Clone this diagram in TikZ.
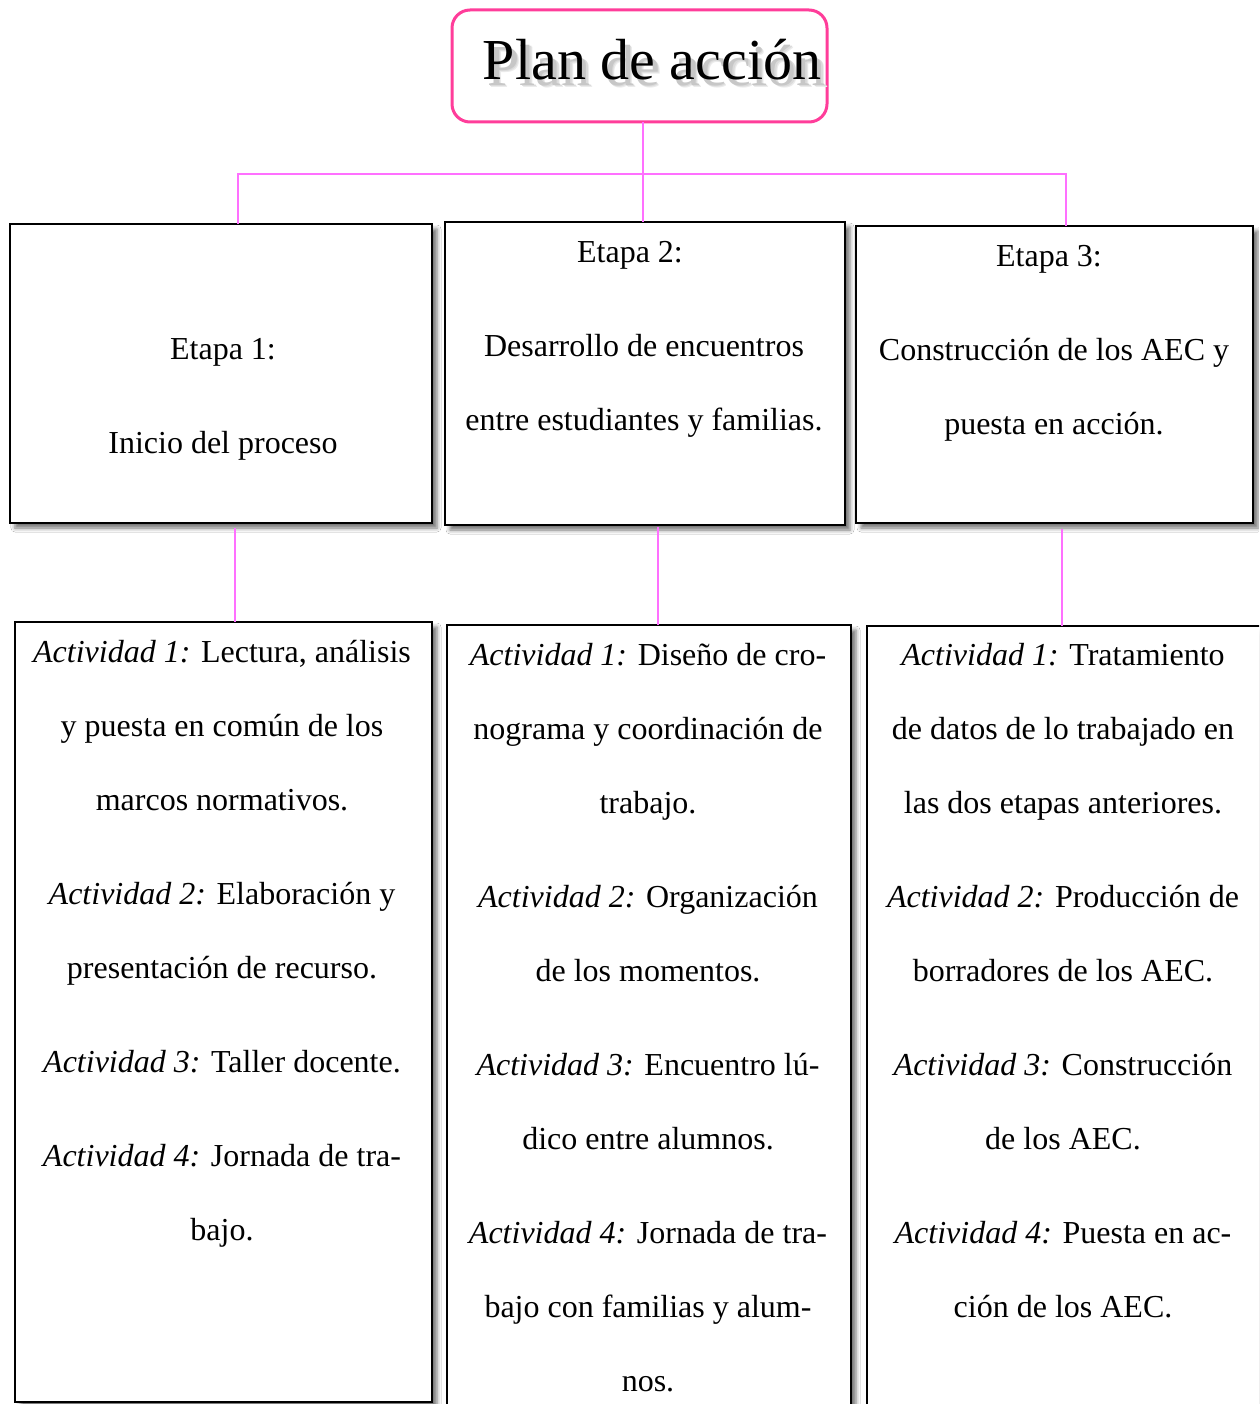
\documentclass[tikz,border=0pt]{standalone}
\usepackage{fontspec}
\setmainfont{Liberation Serif}
\usetikzlibrary{shadows.blur}
\definecolor{titlepink}{HTML}{FF3D9A}
\definecolor{pinkline}{HTML}{FF70FF}
\newcommand{\act}[1]{{\itshape #1}}
\newcommand{\shadowcopy}[4]{\makebox[0pt][l]{\hspace{#1}\raisebox{#2}{\color{black!#3}#4}}}
\begin{document}
\begin{tikzpicture}[x=1pt,y=-1pt,
  boxstyle/.style={draw=black, line width=2pt, fill=white,
    blur shadow={shadow xshift=5pt, shadow yshift=-5pt, shadow blur radius=4pt, shadow opacity=55},
    anchor=north west, inner sep=0pt, outer sep=0pt},
  conn/.style={draw=pinkline, line width=2pt},
  txt/.style={align=center, anchor=base, inner sep=0pt, font=\fontsize{32}{74}\selectfont},
  titletxt/.style={anchor=base, inner sep=0pt, font=\fontsize{58}{60}\selectfont},
]
\useasboundingbox (0,0) rectangle (1259,1404);
\clip (0,0) rectangle (1259,1404);
\fill[white] (0,0) rectangle (1259,1404);

% title
\node[draw=titlepink, line width=3pt, rounded corners=18pt, minimum width=375pt, minimum height=112pt,
      anchor=north west, inner sep=0pt, outer sep=0pt] (title) at (452,10) {};
\node[titletxt] (tt) at (652,80) {%
  \shadowcopy{7pt}{-8pt}{8}{Plan de acción}%
  \shadowcopy{6pt}{-7pt}{14}{Plan de acción}%
  \shadowcopy{4.5pt}{-5.5pt}{22}{Plan de acción}%
  Plan de acción};

% stage boxes
\node[boxstyle, minimum width=422pt, minimum height=299pt] (e1) at (10,224) {};
\node[boxstyle, minimum width=400pt, minimum height=303pt] (e2) at (445,222) {};
\node[boxstyle, minimum width=397pt, minimum height=297pt] (e3) at (856,226) {};

% activity boxes
\node[boxstyle, minimum width=417pt, minimum height=780pt] (a1) at (15,622) {};
\node[boxstyle, minimum width=404pt, minimum height=840pt] (a2) at (447,625) {};
\node[boxstyle, minimum width=420pt, minimum height=840pt] (a3) at (867,626) {};

% connectors
\coordinate (hub) at (643,174);
\coordinate (j1) at (238,174);
\coordinate (j3) at (1066,174);
\draw[conn] (title.south -| hub) -- (hub |- e2.north);
\draw[conn] (j1 |- e1.north) -- (j1) -- (j3) -- (j3 |- e3.north);
\coordinate (l1) at (235,528);
\coordinate (l2) at (658,527);
\coordinate (l3) at (1062,529);
\draw[conn] (l1) -- (l1 |- a1.north);
\draw[conn] (l2) -- (l2 |- a2.north);
\draw[conn] (l3) -- (l3 |- a3.north);

% stage texts (anchor base = last line baseline)
\node[txt] (t1) at (223,453) {Etapa 1:\\[20pt] Inicio del proceso};
\node[txt] (t2) at (644,430) {\hspace*{-28pt}Etapa 2:\\[20pt] Desarrollo de encuentros\\ entre estudiantes y familias.};
\node[txt] (t3) at (1054,434) {\hspace*{-10pt}Etapa 3:\\[20pt] Construcción de los AEC y\\ puesta en acción.};

% activity texts
\node[txt] (x1) at (222,1240) {\act{Actividad 1:} Lectura, análisis\\ y puesta en común de los\\ marcos normativos.\\[20pt]
  \act{Actividad 2:} Elaboración y\\ presentación de recurso.\\[20pt]
  \act{Actividad 3:} Taller docente.\\[20pt]
  \act{Actividad 4:} Jornada de tra-\\ bajo.};
\node[txt] (x2) at (648,1391) {\act{Actividad 1:} Diseño de cro-\\ nograma y coordinación de\\ trabajo.\\[20pt]
  \act{Actividad 2:} Organización\\ de los momentos.\\[20pt]
  \act{Actividad 3:} Encuentro lú-\\ dico entre alumnos.\\[20pt]
  \act{Actividad 4:} Jornada de tra-\\ bajo con familias y alum-\\ nos.};
\node[txt] (x3) at (1063,1317) {\act{Actividad 1:} Tratamiento\\ de datos de lo trabajado en\\ las dos etapas anteriores.\\[20pt]
  \act{Actividad 2:} Producción de\\ borradores de los AEC.\\[20pt]
  \act{Actividad 3:} Construcción\\ de los AEC.\\[20pt]
  \act{Actividad 4:} Puesta en ac-\\ ción de los AEC.};
\end{tikzpicture}
\end{document}
